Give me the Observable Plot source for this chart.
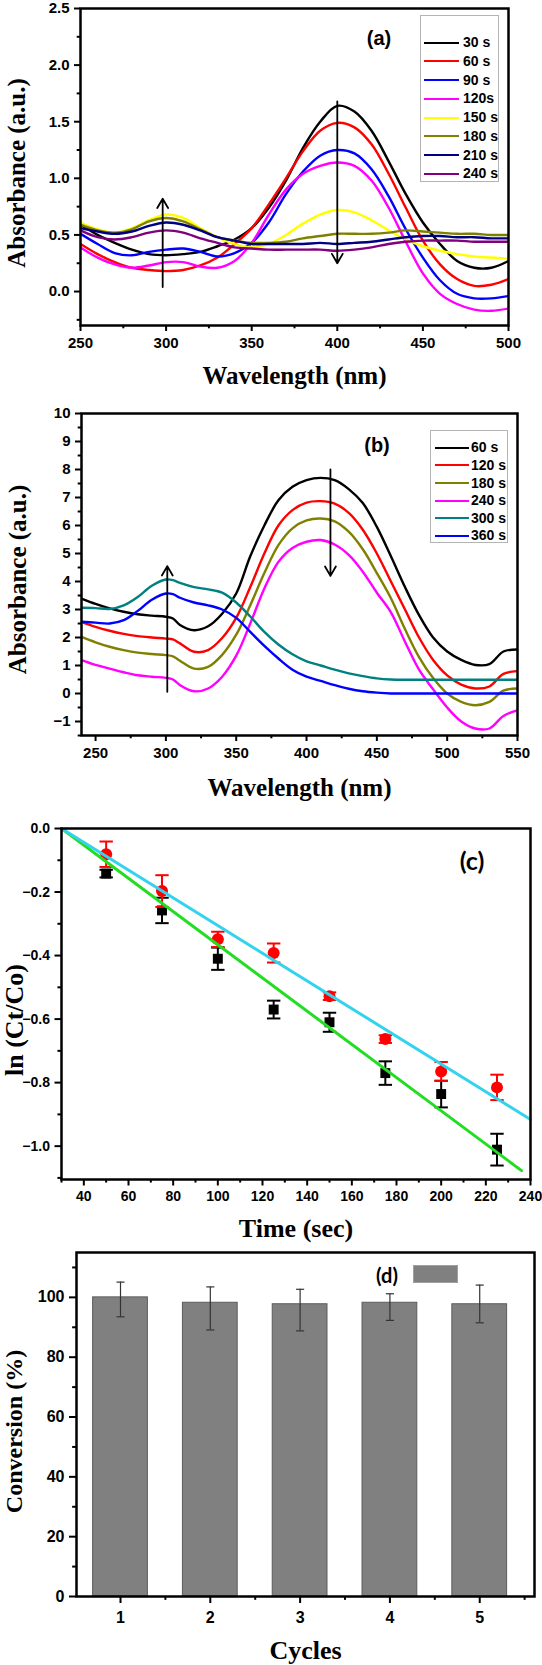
<!DOCTYPE html>
<html><head><meta charset="utf-8">
<script src="https://cdn.jsdelivr.net/npm/d3@7"></script>
<script src="https://cdn.jsdelivr.net/npm/@observablehq/plot@0.6"></script>
<style>
body{margin:0;background:#fff;}
#page{position:relative;width:542px;height:1665px;overflow:hidden;background:#fff;font-family:"Liberation Sans",Arial,sans-serif;color:#000;}
.panel{position:absolute;left:0;}
.legend{position:absolute;background:#fff;border:1px solid #b4b4b4;box-sizing:border-box;}
.lline{position:absolute;height:0;border-top-style:solid;border-top-width:2.5px;}
.ltext{position:absolute;font-weight:bold;white-space:nowrap;line-height:1;}
.plabel{position:absolute;font-weight:bold;white-space:nowrap;line-height:1;transform:translate(-50%,-50%);}
</style></head>
<body><div id="page"></div>
<script>
// ---------- Panel (a) data ----------
const wlA = [250,260,270,280,290,300,310,320,330,340,350,360,370,380,390,400,410,420,430,440,450,460,470,480,490,500];
const a30  = [0.59,0.50,0.43,0.37,0.33,0.32,0.33,0.35,0.40,0.46,0.56,0.74,0.98,1.27,1.50,1.64,1.59,1.42,1.15,0.86,0.61,0.42,0.27,0.21,0.21,0.27];
const a60  = [0.42,0.33,0.26,0.21,0.19,0.18,0.19,0.23,0.30,0.42,0.56,0.77,1.00,1.24,1.42,1.49,1.45,1.30,1.04,0.74,0.45,0.24,0.11,0.05,0.06,0.11];
const a90  = [0.51,0.42,0.34,0.32,0.35,0.37,0.38,0.35,0.31,0.34,0.43,0.61,0.86,1.06,1.20,1.25,1.22,1.08,0.84,0.55,0.30,0.10,-0.02,-0.06,-0.06,-0.04];
const a120 = [0.39,0.30,0.24,0.21,0.23,0.26,0.26,0.22,0.21,0.27,0.43,0.68,0.90,1.04,1.11,1.14,1.11,0.98,0.74,0.44,0.16,-0.02,-0.11,-0.16,-0.17,-0.15];
const a150 = [0.61,0.55,0.52,0.56,0.63,0.68,0.65,0.56,0.48,0.42,0.39,0.42,0.50,0.60,0.68,0.72,0.70,0.63,0.54,0.46,0.40,0.36,0.33,0.31,0.30,0.29];
const a180 = [0.59,0.54,0.52,0.55,0.62,0.65,0.62,0.55,0.48,0.45,0.43,0.43,0.44,0.47,0.49,0.51,0.51,0.51,0.52,0.54,0.53,0.52,0.51,0.51,0.50,0.50];
const a210 = [0.56,0.53,0.51,0.53,0.58,0.61,0.59,0.54,0.48,0.45,0.42,0.42,0.42,0.42,0.43,0.42,0.43,0.44,0.46,0.48,0.49,0.49,0.48,0.48,0.47,0.47];
const a240 = [0.54,0.48,0.46,0.48,0.52,0.54,0.52,0.47,0.43,0.39,0.38,0.37,0.37,0.37,0.37,0.36,0.37,0.39,0.42,0.44,0.45,0.45,0.45,0.44,0.44,0.44];
const labelsA = ["30 s","60 s","90 s","120s","150 s","180 s","210 s","240 s"];
const colorsA = ["#000000","#ff0000","#0000ff","#ff00ff","#ffff00","#808000","#000080","#800080"];
const valuesA = [a30,a60,a90,a120,a150,a180,a210,a240];
const arrowsA = [{x1:298,y1:0.04,x2:298,y2:0.82},{x1:400,y1:1.68,x2:400,y2:0.25}];

// ---------- Panel (b) data ----------
const wlB = [240,250,260,270,280,290,300,305,310,320,330,340,350,360,370,380,390,400,410,420,430,440,450,460,470,480,490,500,510,520,530,540,550];
const b60  = [3.39,3.20,3.04,2.92,2.83,2.78,2.74,2.68,2.45,2.26,2.40,2.85,3.57,4.90,6.00,6.90,7.38,7.62,7.70,7.62,7.30,6.80,5.95,4.90,3.80,2.80,2.00,1.50,1.20,1.02,1.05,1.50,1.57];
const b120 = [2.56,2.38,2.24,2.13,2.05,2.00,1.96,1.93,1.79,1.49,1.55,1.98,2.70,3.80,5.00,6.00,6.55,6.82,6.87,6.78,6.45,5.85,5.00,4.00,3.00,2.00,1.20,0.65,0.32,0.18,0.25,0.70,0.80];
const b180 = [2.02,1.83,1.67,1.55,1.46,1.41,1.37,1.33,1.17,0.89,0.95,1.38,2.10,3.15,4.30,5.30,5.90,6.18,6.25,6.15,5.78,5.15,4.30,3.40,2.30,1.30,0.55,0.00,-0.30,-0.42,-0.30,0.10,0.18];
const b240 = [1.19,1.02,0.89,0.76,0.65,0.60,0.56,0.50,0.30,0.08,0.18,0.60,1.35,2.50,3.75,4.70,5.20,5.42,5.48,5.32,4.95,4.35,3.60,2.90,1.85,0.85,0.15,-0.50,-1.00,-1.25,-1.25,-0.80,-0.60];
const b300 = [3.06,3.05,3.02,3.15,3.45,3.85,4.07,4.05,3.95,3.80,3.72,3.60,3.25,2.75,2.20,1.75,1.40,1.15,1.00,0.85,0.72,0.62,0.54,0.50,0.49,0.49,0.49,0.49,0.49,0.49,0.49,0.49,0.49];
const b360 = [2.56,2.53,2.50,2.62,2.95,3.35,3.57,3.55,3.42,3.25,3.15,3.00,2.70,2.20,1.70,1.25,0.85,0.60,0.45,0.30,0.17,0.08,0.03,0.00,0.00,0.00,0.00,0.00,0.00,0.00,0.00,0.00,0.00];
const labelsB = ["60 s","120 s","180 s","240 s","300 s","360 s"];
const colorsB = ["#000000","#ff0000","#808000","#ff00ff","#008080","#0000ff"];
const valuesB = [b60,b120,b180,b240,b300,b360];
const arrowsB = [{x1:301,y1:0.06,x2:301,y2:4.55},{x1:417,y1:8.0,x2:417,y2:4.2}];

// ---------- Panel (c) data ----------
const timeC = [50,75,100,125,150,175,200,225];
const squareC = [-0.142,-0.258,-0.41,-0.57,-0.61,-0.77,-0.836,-1.011];
const squareErr = [0.012,0.04,0.035,0.028,0.03,0.037,0.042,0.05];
const circleC = [-0.081,-0.197,-0.349,-0.392,-0.528,-0.663,-0.765,-0.815];
const circleErr = [0.04,0.05,0.024,0.03,0.012,0.012,0.03,0.04];
const fitGreenT = [30,236], fitGreenV = [0,-1.077];
const fitCyanT = [30,240], fitCyanV = [0,-0.916];

// ---------- Panel (d) data ----------
const cycles = [1,2,3,4,5];
const conversion = [100,98.2,97.7,98.2,97.7];
const convHigh = [105.1,103.5,102.7,101.2,104.1];
const convLow = [93.5,89.1,88.8,92.3,91.5];

// ---------- helpers ----------
const sans = "Liberation Sans, Arial, sans-serif";
const serif = "Liberation Serif, Times New Roman, serif";
const page = document.getElementById("page");
const range = (a,b,s) => d3.range(a, b + s/2, s);

function axisMarks({xMajor,xMinor,yMajor,yMinor,xFmt,yFmt,tick,pad,ypad}) {
  return [
    Plot.axisX({ticks:xMinor, tickSize:tick*0.55, tickFormat:()=>"", strokeWidth:2, label:null}),
    Plot.axisX({ticks:xMajor, tickSize:tick, tickPadding:pad, tickFormat:xFmt, strokeWidth:2, label:null}),
    Plot.axisY({ticks:yMinor, tickSize:tick*0.55, tickFormat:()=>"", strokeWidth:2, label:null}),
    Plot.axisY({ticks:yMajor, tickSize:tick, tickPadding:ypad, tickFormat:yFmt, strokeWidth:2, label:null})
  ];
}
function titles(xt, yt, {xdy, ydx, ydy, size, ysize}) {
  return [
    Plot.text([xt], {text:d=>d, frameAnchor:"bottom", dy:xdy, lineAnchor:"middle", textAnchor:"middle", fontFamily:serif, fontSize:size, fontWeight:"bold"}),
    Plot.text([yt], {text:d=>d, frameAnchor:"left", dx:ydx, dy:ydy, rotate:-90, lineAnchor:"middle", textAnchor:"middle", fontFamily:serif, fontSize:ysize || size, fontWeight:"bold"})
  ];
}
function place(svg, top) {
  const div = document.createElement("div");
  div.className = "panel"; div.style.top = top + "px";
  div.appendChild(svg); page.appendChild(div);
}
function legend({left, top, width, height, labels, colors, y0, dy, lx, lw, tx, fs}) {
  const box = document.createElement("div");
  box.className = "legend";
  Object.assign(box.style, {left:left+"px", top:top+"px", width:width+"px", height:height+"px"});
  labels.forEach((lab, i) => {
    const yc = y0 + i*dy;
    const ln = document.createElement("div");
    ln.className = "lline";
    Object.assign(ln.style, {left:lx+"px", width:lw+"px", top:(yc-1.25)+"px", borderTopColor:colors[i]});
    const tt = document.createElement("div");
    tt.className = "ltext"; tt.textContent = lab;
    Object.assign(tt.style, {left:tx+"px", top:(yc-fs*0.55)+"px", fontSize:fs+"px"});
    box.appendChild(ln); box.appendChild(tt);
  });
  page.appendChild(box);
}
function plabel(text, x, y, size, family) {
  const d = document.createElement("div");
  d.className = "plabel"; d.textContent = text;
  Object.assign(d.style, {left:x+"px", top:y+"px", fontSize:size+"px", fontFamily:family});
  page.appendChild(d);
}
const styleFor = fs => ({fontFamily:sans, fontWeight:"bold", fontSize:fs+"px", color:"#000", background:"transparent", overflow:"visible"});

// ---------- Panel (a) ----------
{
  const lines = valuesA.map((vals, k) =>
    Plot.line(wlA.map((w,i)=>({w, v:vals[i]})), {x:"w", y:"v", stroke:colorsA[k], strokeWidth:2.4, curve:"catmull-rom", clip:true}));
  const svg = Plot.plot({
    width:542, height:395, marginTop:8, marginBottom:70, marginLeft:80, marginRight:34,
    style:styleFor(15),
    x:{domain:[250,500], label:null}, y:{domain:[-0.3,2.5], label:null},
    marks:[
      ...lines,
      Plot.arrow(arrowsA, {x1:"x1",y1:"y1",x2:"x2",y2:"y2", stroke:"black", strokeWidth:1.8, headLength:9}),
      ...axisMarks({xMajor:range(250,500,50), xMinor:range(275,475,50), yMajor:range(0,2.5,0.5), yMinor:range(-0.25,2.25,0.5),
        xFmt:d3.format("d"), yFmt:d3.format(".1f"), tick:6, pad:6, ypad:5}),
      Plot.frame({stroke:"black", strokeWidth:2.5}),
      ...titles("Wavelength (nm)", "Absorbance (a.u.)", {xdy:50, ydx:-64, ydy:6, size:25})
    ]
  });
  place(svg, 0);
  legend({left:420, top:15, width:79, height:167, labels:labelsA, colors:colorsA, y0:27, dy:18.7, lx:3, lw:35, tx:42, fs:14});
  plabel("(a)", 379, 38, 20, sans);
}

// ---------- Panel (b) ----------
{
  const lines = valuesB.map((vals, k) =>
    Plot.line(wlB.map((w,i)=>({w, v:vals[i]})), {x:"w", y:"v", stroke:colorsB[k], strokeWidth:2.4, curve:"catmull-rom", clip:true}));
  const svg = Plot.plot({
    width:542, height:410, marginTop:18, marginBottom:70, marginLeft:81, marginRight:25,
    style:styleFor(15),
    x:{domain:[240,550], label:null}, y:{domain:[-1.5,10], label:null},
    marks:[
      ...lines,
      Plot.arrow(arrowsB, {x1:"x1",y1:"y1",x2:"x2",y2:"y2", stroke:"black", strokeWidth:1.8, headLength:9}),
      ...axisMarks({xMajor:range(250,550,50), xMinor:range(275,525,50), yMajor:range(-1,10,1), yMinor:range(-1.5,9.5,1),
        xFmt:d3.format("d"), yFmt:d3.format("d"), tick:6, pad:6, ypad:5}),
      Plot.frame({stroke:"black", strokeWidth:2.5}),
      ...titles("Wavelength (nm)", "Absorbance (a.u.)", {xdy:52, ydx:-64, ydy:5, size:25})
    ]
  });
  place(svg, 395);
  legend({left:430, top:430, width:78, height:113, labels:labelsB, colors:colorsB, y0:17, dy:17.6, lx:3.5, lw:34, tx:40, fs:14});
  plabel("(b)", 377, 445, 20, sans);
}

// ---------- Panel (c) ----------
{
  const sq = timeC.map((t,i)=>({t, v:squareC[i], e:squareErr[i]}));
  const ci = timeC.map((t,i)=>({t, v:circleC[i], e:circleErr[i]}));
  const cap = 3;
  const errMarks = (data, color) => [
    Plot.ruleX(data, {x:"t", y1:d=>d.v-d.e, y2:d=>d.v+d.e, stroke:color, strokeWidth:2}),
    Plot.link(data, {x1:d=>d.t-cap, x2:d=>d.t+cap, y1:d=>d.v+d.e, y2:d=>d.v+d.e, stroke:color, strokeWidth:2}),
    Plot.link(data, {x1:d=>d.t-cap, x2:d=>d.t+cap, y1:d=>d.v-d.e, y2:d=>d.v-d.e, stroke:color, strokeWidth:2})
  ];
  const svg = Plot.plot({
    width:542, height:440, marginTop:23, marginBottom:66, marginLeft:61, marginRight:12,
    style:styleFor(14),
    x:{domain:[30,240], label:null}, y:{domain:[-1.105,0], label:null},
    marks:[
      ...errMarks(sq, "black"),
      Plot.dot(sq, {x:"t", y:"v", symbol:"square", r:5.6, fill:"black"}),
      ...errMarks(ci, "#ff0000"),
      Plot.dot(ci, {x:"t", y:"v", r:6, fill:"#ff0000"}),
      Plot.line(fitGreenT.map((t,i)=>({t, v:fitGreenV[i]})), {x:"t", y:"v", stroke:"#22dd22", strokeWidth:3}),
      Plot.line(fitCyanT.map((t,i)=>({t, v:fitCyanV[i]})), {x:"t", y:"v", stroke:"#33d3ee", strokeWidth:3}),
      ...axisMarks({xMajor:range(40,240,20), xMinor:range(30,230,20), yMajor:range(-1.0,0,0.2), yMinor:range(-1.1,-0.1,0.2),
        xFmt:d3.format("d"), yFmt:d3.format(".1f"), tick:6.5, pad:5, ypad:5}),
      Plot.frame({stroke:"black", strokeWidth:2.5}),
      ...titles("Time (sec)", "ln (Ct/Co)", {xdy:49, ydx:-47, ydy:16, size:26})
    ]
  });
  place(svg, 805);
  plabel("(c)", 472, 860, 25, "Lato, Open Sans, sans-serif");
}

// ---------- Panel (d) ----------
{
  const bars = cycles.map((c,i)=>({c, v:conversion[i], hi:convHigh[i], lo:convLow[i]}));
  const hw = 0.305, cap = 0.045;
  const svg = Plot.plot({
    width:542, height:420, marginTop:7, marginBottom:69, marginLeft:76, marginRight:8,
    style:styleFor(16),
    x:{domain:[0.51,5.61], label:null}, y:{domain:[0,115], label:null},
    marks:[
      Plot.rectY(bars, {x1:d=>d.c-hw, x2:d=>d.c+hw, y1:0, y2:"v", fill:"#808080", stroke:"#5c5c5c", strokeWidth:1}),
      Plot.ruleX(bars, {x:"c", y1:"lo", y2:"hi", stroke:"#333", strokeWidth:1.2}),
      Plot.link(bars, {x1:d=>d.c-cap, x2:d=>d.c+cap, y1:"hi", y2:"hi", stroke:"#333", strokeWidth:1.2}),
      Plot.link(bars, {x1:d=>d.c-cap, x2:d=>d.c+cap, y1:"lo", y2:"lo", stroke:"#333", strokeWidth:1.2}),
      ...axisMarks({xMajor:cycles, xMinor:range(1.5,5.5,1), yMajor:range(0,100,20), yMinor:range(10,110,20),
        xFmt:d3.format("d"), yFmt:d3.format("d"), tick:7, pad:8, ypad:5}),
      Plot.frame({stroke:"black", strokeWidth:2.5}),
      ...titles("Cycles", "Conversion (%)", {xdy:54, ydx:-62, ydy:7, size:26, ysize:24})
    ]
  });
  place(svg, 1245);
  plabel("(d)", 387, 1275, 20, "Lato, Open Sans, sans-serif");
  const sw = document.createElement("div");
  Object.assign(sw.style, {position:"absolute", left:"413px", top:"1265px", width:"45px", height:"18px", background:"#808080", border:"1px solid #a0a0a0", boxSizing:"border-box"});
  page.appendChild(sw);
}
</script></body></html>
